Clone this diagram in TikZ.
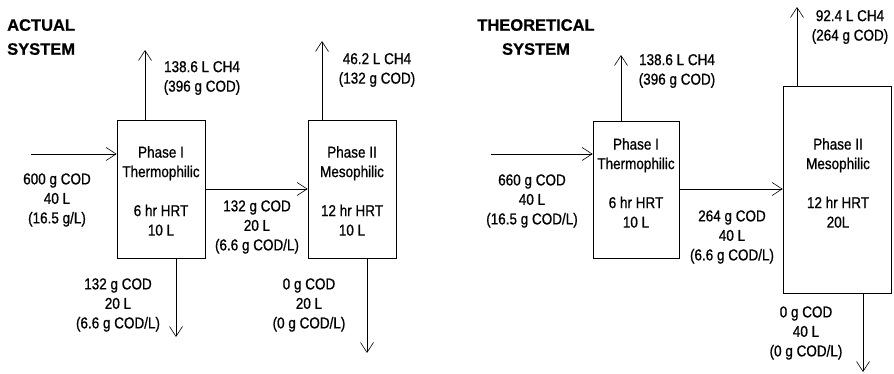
\documentclass[tikz,border=0pt]{standalone}
\usepackage{fontspec}
\setmainfont{Liberation Sans}
\newfontfamily\lblfont[FakeStretch=0.86,FakeBold=0.8]{Liberation Sans}
\newfontfamily\ttlfont[FakeBold=0.8]{Liberation Sans Bold}
\usetikzlibrary{arrows.meta}
\begin{document}
\begin{tikzpicture}[x=1pt,y=-1pt,
  lbl/.style={align=center,inner sep=0pt,font=\lblfont\fontsize{15.7}{19.5}\selectfont},
  ttl/.style={inner sep=0pt,font=\ttlfont\fontsize{16.5}{24}\selectfont},
  tank/.style={draw,line width=0.7pt,inner sep=0pt},
  flow/.style={line width=0.7pt,-{Straight Barb[length=10pt,width=13pt,line width=0.6pt]}}]
\useasboundingbox (0,0) rectangle (894,374);
% ---------- ACTUAL SYSTEM ----------
\node[ttl,anchor=north west,align=left] (t1) at (7,19) {ACTUAL\\SYSTEM};
\node[tank,minimum width=88pt,minimum height=138pt] (b1) at (161,189) {};
\node[tank,minimum width=88pt,minimum height=138pt] (b2) at (352,189) {};
\node[lbl,anchor=north] (b1t) at (161,146) {Phase I\\Thermophilic\\[19.5pt]6 hr HRT\\10 L};
\node[lbl,anchor=north] (b2t) at (352,146) {Phase II\\Mesophilic\\[19.5pt]12 hr HRT\\10 L};
\coordinate (in1) at (31,154);
\coordinate (u1) at (145,50);
\coordinate (u2) at (322,41);
\coordinate (d1) at (176,337);
\coordinate (d2) at (367,353);
\draw[flow] (in1) -- (in1 -| b1.west);
\draw[flow] (b1.north -| u1) -- (u1);
\draw[flow] (b2.north -| u2) -- (u2);
\draw[flow] (b1.east |- 0,189) -- (b2.west |- 0,189);
\draw[flow] (b1.south -| d1) -- (d1);
\draw[flow] (b2.south -| d2) -- (d2);
\node[lbl] (l1) at (202,78) {138.6 L CH4\\(396 g COD)};
\node[lbl] (l2) at (377,70) {46.2 L CH4\\(132 g COD)};
\node[lbl] (l3) at (57,200) {600 g COD\\40 L\\(16.5 g/L)};
\node[lbl] (l4) at (257,227) {132 g COD\\20 L\\(6.6 g COD/L)};
\node[lbl] (l5) at (118,305) {132 g COD\\20 L\\(6.6 g COD/L)};
\node[lbl] (l6) at (309,305) {0 g COD\\20 L\\(0 g COD/L)};
% ---------- THEORETICAL SYSTEM ----------
\node[ttl,anchor=north,align=center] (t2) at (536,19) {THEORETICAL\\SYSTEM};
\node[tank,minimum width=86pt,minimum height=137pt] (b3) at (636,189.5) {};
\node[tank,minimum width=108pt,minimum height=207pt] (b4) at (837,189.5) {};
\node[lbl,anchor=north] (b3t) at (636,138) {Phase I\\Thermophilic\\[19.5pt]6 hr HRT\\10 L};
\node[lbl,anchor=north] (b4t) at (838,138) {Phase II\\Mesophilic\\[19.5pt]12 hr HRT\\20L};
\coordinate (in3) at (491,154);
\coordinate (u3) at (621,55);
\coordinate (u4) at (797,7);
\coordinate (d4) at (863,372);
\draw[flow] (in3) -- (in3 -| b3.west);
\draw[flow] (b3.north -| u3) -- (u3);
\draw[flow] (b4.north -| u4) -- (u4);
\draw[flow] (b3.east |- 0,189) -- (b4.west |- 0,189);
\draw[flow] (b4.south -| d4) -- (d4);
\node[lbl] (l7) at (677,71) {138.6 L CH4\\(396 g COD)};
\node[lbl] (l8) at (850,27) {92.4 L CH4\\(264 g COD)};
\node[lbl] (l9) at (532,201) {660 g COD\\40 L\\(16.5 g COD/L)};
\node[lbl] (l10) at (732,237) {264 g COD\\40 L\\(6.6 g COD/L)};
\node[lbl] (l11) at (806,333) {0 g COD\\40 L\\(0 g COD/L)};
\end{tikzpicture}
\end{document}
